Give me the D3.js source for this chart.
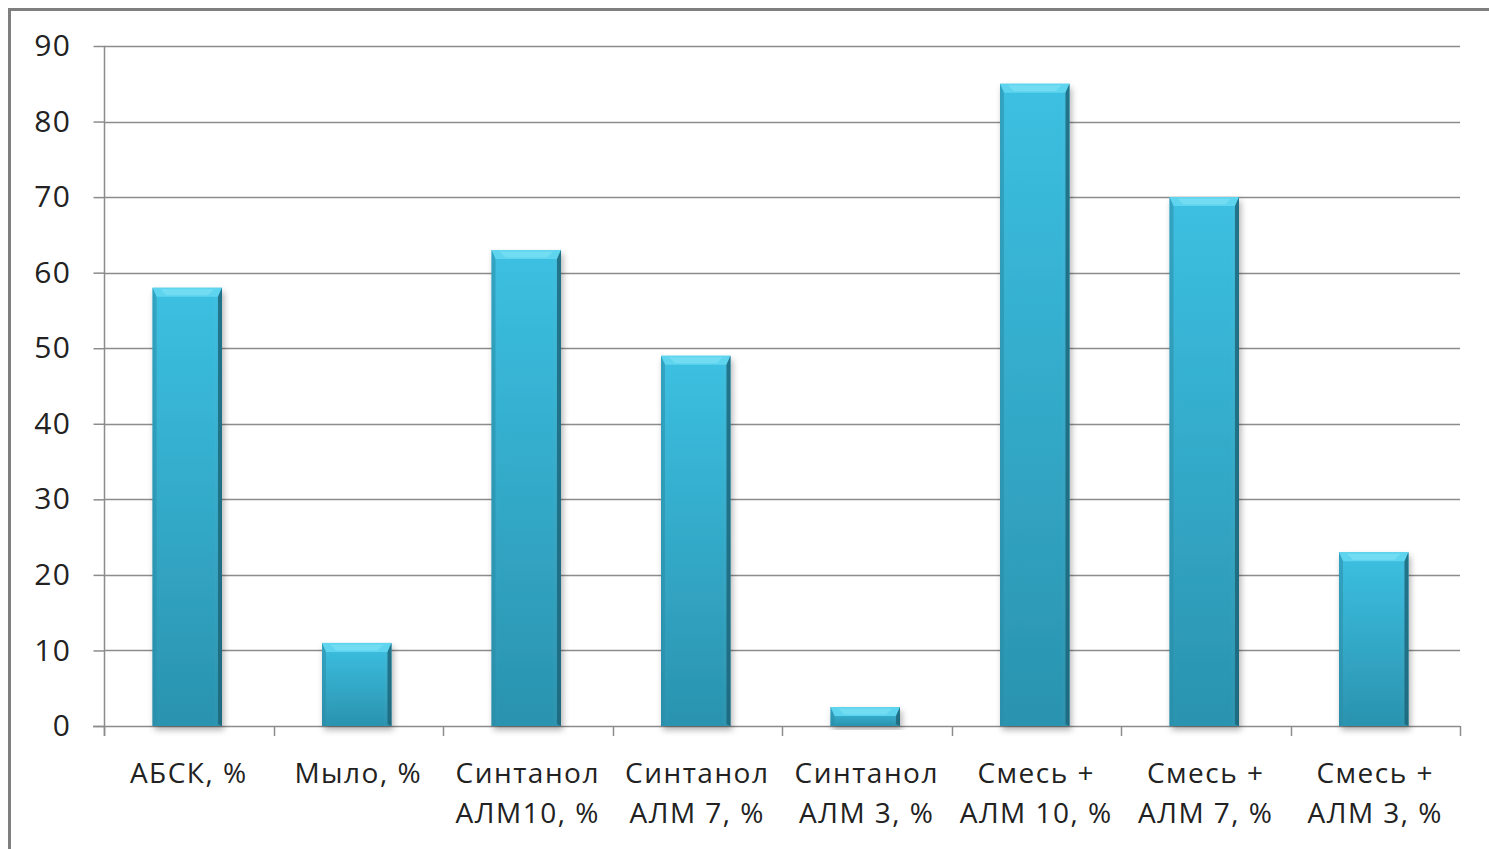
<!DOCTYPE html>
<html>
<head>
<meta charset="utf-8">
<script src="https://cdn.jsdelivr.net/npm/d3@7"></script>
<style>
  html, body { margin: 0; padding: 0; background: #fff; }
  svg { display: block; }
</style>
</head>
<body>
<svg id="chart" width="1489" height="849"></svg>
<script>
// Category labels (each split into display lines) and values, %
const categories = [
  ["АБСК, %"],
  ["Мыло, %"],
  ["Синтанол", "АЛМ10, %"],
  ["Синтанол", "АЛМ 7, %"],
  ["Синтанол", "АЛМ 3, %"],
  ["Смесь +", "АЛМ 10, %"],
  ["Смесь +", "АЛМ 7, %"],
  ["Смесь +", "АЛМ 3, %"]
];
const values = [58, 11, 63, 49, 2.5, 85, 70, 23];
const yTicks = [0, 10, 20, 30, 40, 50, 60, 70, 80, 90];

const FONT = "'Open Sans', Lato, sans-serif";
const svg = d3.select("#chart");
const margin = { left: 104, right: 29, top: 46, bottom: 123 };
const W = 1489, H = 849;

// Outer frame (extends past the right and bottom edges)
svg.append("rect")
  .attr("x", 9.5).attr("y", 9.5)
  .attr("width", W + 20).attr("height", H + 20)
  .attr("fill", "none").attr("stroke", "#7f7f7f").attr("stroke-width", 3);

const x = d3.scaleBand()
  .domain(d3.range(categories.length))
  .range([margin.left, W - margin.right])
  .paddingInner(0).paddingOuter(0);

const y = d3.scaleLinear()
  .domain([0, 90])
  .range([H - margin.bottom, margin.top]);

const defs = svg.append("defs");
const grad = defs.append("linearGradient")
  .attr("id", "barGrad").attr("x1", 0).attr("y1", 0).attr("x2", 0).attr("y2", 1);
grad.append("stop").attr("offset", "0%").attr("stop-color", "#3cc0e2");
grad.append("stop").attr("offset", "100%").attr("stop-color", "#2a93af");

const hgrad = defs.append("linearGradient")
  .attr("id", "barSide").attr("x1", 0).attr("y1", 0).attr("x2", 1).attr("y2", 0);
hgrad.append("stop").attr("offset", "0%").attr("stop-color", "#000").attr("stop-opacity", 0.05);
hgrad.append("stop").attr("offset", "12%").attr("stop-color", "#fff").attr("stop-opacity", 0.0);
hgrad.append("stop").attr("offset", "88%").attr("stop-color", "#fff").attr("stop-opacity", 0.0);
hgrad.append("stop").attr("offset", "100%").attr("stop-color", "#000").attr("stop-opacity", 0.12);

const shadow = defs.append("filter").attr("id", "shadow")
  .attr("x", "-20%").attr("y", "-20%").attr("width", "140%").attr("height", "140%");
shadow.append("feDropShadow")
  .attr("dx", 2).attr("dy", 4).attr("stdDeviation", 3)
  .attr("flood-color", "#000").attr("flood-opacity", 0.3);

// Horizontal gridlines
const grid = svg.append("g");
grid.selectAll("line").data(yTicks.filter(d => d > 0)).join("line")
  .attr("x1", margin.left).attr("x2", W - margin.right)
  .attr("y1", d => Math.round(y(d)) + 0.5).attr("y2", d => Math.round(y(d)) + 0.5)
  .attr("stroke", "#8c8c8c").attr("stroke-width", 1.5);

// Y axis
const yAxis = d3.axisLeft(y).tickValues(yTicks).tickSize(11).tickPadding(22);
const gy = svg.append("g")
  .attr("transform", `translate(${margin.left + 0.5},0)`)
  .call(yAxis);
gy.select(".domain").attr("stroke", "#8c8c8c").attr("stroke-width", 1.5)
  .attr("d", `M0,${y(90)}V${y(0) + 10}`);
gy.selectAll(".tick line").attr("stroke", "#8c8c8c").attr("stroke-width", 1.5);
gy.selectAll(".tick text")
  .attr("font-family", FONT).attr("letter-spacing", 1.5)
  .attr("font-size", 30).attr("fill", "#222");

// X axis baseline and band-boundary ticks
const xg = svg.append("g");
xg.append("line")
  .attr("x1", margin.left - 11).attr("x2", W - margin.right)
  .attr("y1", y(0) + 0.5).attr("y2", y(0) + 0.5)
  .attr("stroke", "#8c8c8c").attr("stroke-width", 1.5);
const bounds = d3.range(categories.length + 1).map(i =>
  i < categories.length ? x(i) : x(categories.length - 1) + x.bandwidth());
xg.selectAll("line.tick").data(bounds).join("line").attr("class", "tick")
  .attr("x1", d => Math.round(d) + 0.5).attr("x2", d => Math.round(d) + 0.5)
  .attr("y1", y(0)).attr("y2", y(0) + 10)
  .attr("stroke", "#8c8c8c").attr("stroke-width", 1.5);

// Category labels
const labels = xg.selectAll("text.cat").data(categories).join("text")
  .attr("class", "cat")
  .attr("font-family", FONT).attr("letter-spacing", 1.5)
  .attr("font-size", 28).attr("fill", "#222")
  .attr("text-anchor", "middle");
labels.each(function(lines, i) {
  const t = d3.select(this);
  lines.forEach((ln, k) => {
    t.append("tspan")
      .attr("x", x(i) + x.bandwidth() / 2)
      .attr("y", y(0) + 57 + k * 40)
      .text(ln);
  });
});

// Bars with bevelled top
const barW = x.bandwidth() * 0.41;
const bars = svg.append("g").selectAll("g.bar").data(values).join("g").attr("class", "bar");
bars.each(function(v, i) {
  const g = d3.select(this);
  const x0 = x(i) + (x.bandwidth() - barW) / 2 - 1.5;
  const y0 = y(v), y1 = y(0);
  const h = y1 - y0;
  const bv = Math.min(9, h / 2);
  const sv = 4;
  g.append("rect")
    .attr("x", x0).attr("y", y0).attr("width", barW).attr("height", h)
    .attr("fill", "url(#barGrad)").attr("filter", "url(#shadow)");
  g.append("rect")
    .attr("x", x0).attr("y", y0).attr("width", barW).attr("height", h)
    .attr("fill", "url(#barSide)");
  // top bevel face
  g.append("path")
    .attr("d", `M${x0},${y0}H${x0 + barW}L${x0 + barW - sv},${y0 + bv}H${x0 + sv}Z`)
    .attr("fill", "#5fd4ee");
  // inner highlight on the top face
  g.append("path")
    .attr("d", `M${x0 + 8},${y0 + 1.5}H${x0 + barW - 8}L${x0 + barW - 14},${y0 + bv - 1.5}H${x0 + 14}Z`)
    .attr("fill", "#7fe2f5").attr("opacity", 0.6);
  // left edge
  g.append("path")
    .attr("d", `M${x0},${y0}L${x0 + sv},${y0 + bv}V${y1 - 2}L${x0},${y1}Z`)
    .attr("fill", "#2a8fab").attr("opacity", 0.55);
  // right edge
  g.append("path")
    .attr("d", `M${x0 + barW},${y0}L${x0 + barW - sv},${y0 + bv}V${y1 - 2}L${x0 + barW},${y1}Z`)
    .attr("fill", "#1c6478").attr("opacity", 0.8);
});
</script>
</body>
</html>
